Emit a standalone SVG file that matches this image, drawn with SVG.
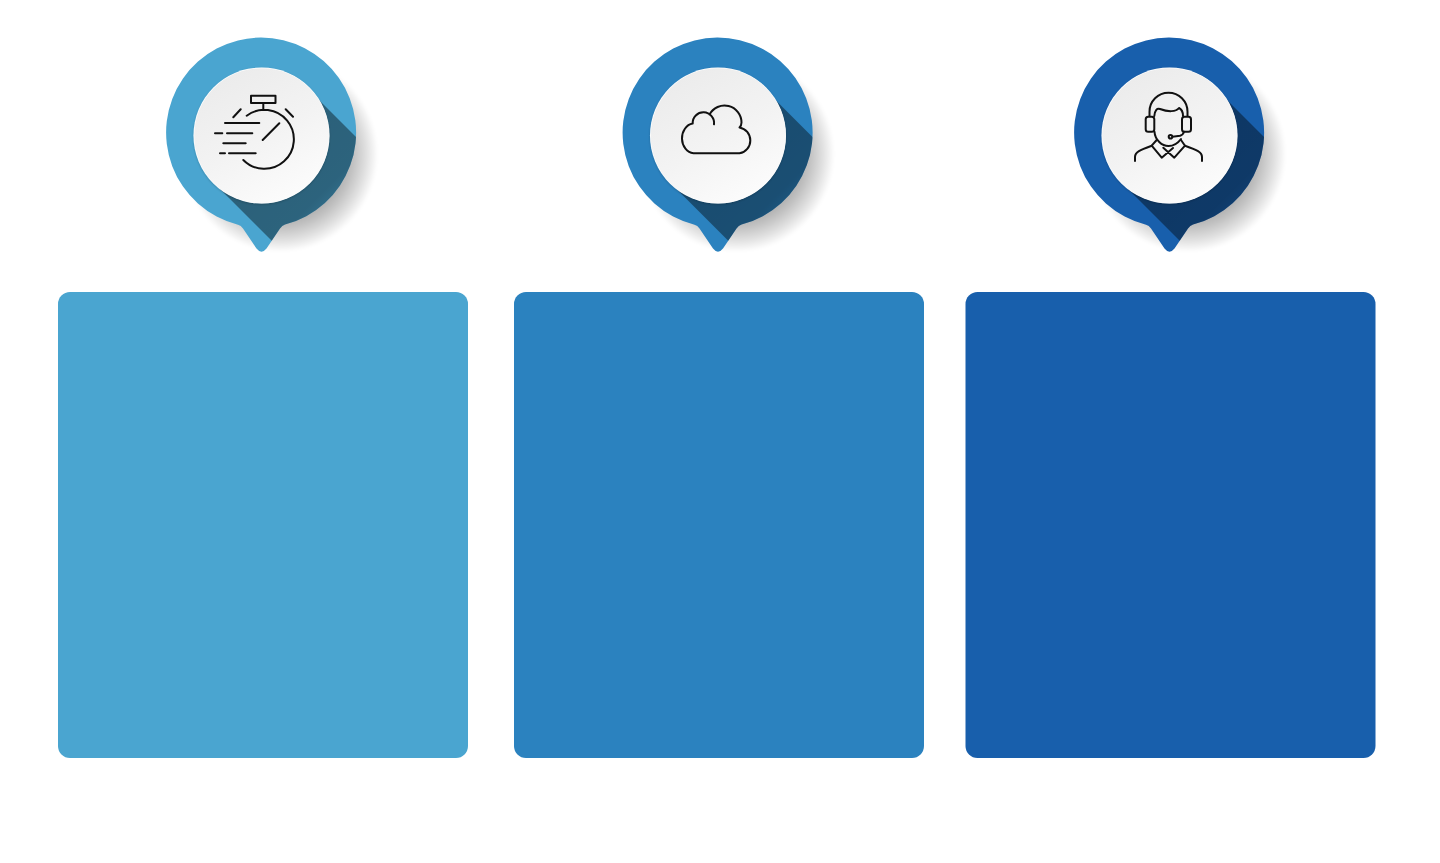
<svg xmlns="http://www.w3.org/2000/svg" width="1440" height="863" viewBox="0 0 1440 863">
<style>
.icon{fill:none;stroke:#111;stroke-width:2;stroke-linecap:round;stroke-linejoin:round}
.disc{fill:url(#discFill)}
.rim{fill:#fff;filter:url(#discShadow)}
.soft{fill:url(#softFill);filter:url(#softBlur)}
.band{fill:url(#bandFill)}
</style>
<defs>
<linearGradient id="discFill" x1="0.2" y1="0.1" x2="0.7" y2="1"><stop offset="0" stop-color="#ececec"/><stop offset="0.5" stop-color="#f3f3f3"/><stop offset="1" stop-color="#fcfcfc"/></linearGradient>
<radialGradient id="softFill" gradientUnits="userSpaceOnUse" cx="280" cy="154" r="98"><stop offset="0.6" stop-color="#000" stop-opacity="0.36"/><stop offset="0.75" stop-color="#000" stop-opacity="0.24"/><stop offset="0.88" stop-color="#000" stop-opacity="0.12"/><stop offset="1" stop-color="#000" stop-opacity="0"/></radialGradient>
<linearGradient id="bandFill" gradientUnits="userSpaceOnUse" x1="270" y1="140" x2="345" y2="215"><stop offset="0" stop-color="#000" stop-opacity="0.42"/><stop offset="0.7" stop-color="#000" stop-opacity="0.4"/><stop offset="1" stop-color="#000" stop-opacity="0.26"/></linearGradient>
<filter id="softBlur" x="-20%" y="-20%" width="140%" height="140%"><feGaussianBlur stdDeviation="1.5"/></filter>
<filter id="discShadow" x="-10%" y="-10%" width="120%" height="120%"><feDropShadow dx="0" dy="1" stdDeviation="1" flood-color="#000" flood-opacity="0.2"/></filter>
<path id="pinBody" d="M238 224.7A95 95 0 1 1 285 224.5Q282 225.5 280 228.5L266.5 248.6Q261.5 255 256.5 248.6L243 228.5Q241 225.5 238 224.7Z"/>
<clipPath id="pinClip"><use href="#pinBody"/></clipPath>
<g id="pinExtras">
<circle class="soft" cx="280" cy="154" r="98"/>
</g>
<g id="pinFront">
<g clip-path="url(#pinClip)"><path class="band" d="M300 81L440 221 340 309 212 181Z"/></g>
<circle class="rim" cx="261.5" cy="135.5" r="68"/>
<circle class="disc" cx="261.7" cy="135.7" r="67.5"/>
</g>
</defs>
<g id="node-1">
<use href="#pinExtras"/>
<use href="#pinBody" fill="#4aa5d0"/>
<use href="#pinFront"/>
<g class="icon">
<rect x="251" y="95.7" width="24.5" height="7.3"/>
<path d="M263.3 103V110M246.7 115.7A29.5 29.5 0 1 1 243.3 160M262.7 140L279.3 123.3M233.3 117.3L240.7 109.3M285.7 109.3L293 116.7M225 123H259.3M215 133.3H222.3M227 133.3H252.3M223.3 143.3H245.7M220 153.3H225M229 153.3H255.7"/>
</g>
<rect x="58" y="292" width="410" height="466" rx="12" fill="#4aa5d0"/>
</g>
<g id="node-2">
<g transform="translate(456.5 0)">
<use href="#pinExtras"/>
<use href="#pinBody" fill="#2b82bf"/>
<use href="#pinFront"/>
</g>
<path class="icon" d="M714 124.3A10.7 10.7 0 1 0 692.7 123.5A12.5 15 0 0 0 693.5 153.3H739.5A13.1 13.1 0 0 0 739.5 127.5Q741.5 125.5 741.5 122.5A17 17 0 0 0 709.5 114.5"/>
<rect x="514" y="292" width="410" height="466" rx="12" fill="#2b82bf"/>
</g>
<g id="node-3">
<g transform="translate(908 0)">
<use href="#pinExtras"/>
<use href="#pinBody" fill="#185fac"/>
<use href="#pinFront"/>
</g>
<g class="icon">
<path d="M1149.5 116V111.7A19 19 0 0 1 1187.5 111.7V116"/>
<rect x="1145.7" y="116.7" width="8.6" height="15" rx="2.5"/>
<rect x="1182" y="116.7" width="9" height="15" rx="2.5"/>
<path d="M1154.3 116C1155 110 1157 108 1160 109C1168 112 1176 112 1179 108C1181 109 1183 112 1183 116M1154.5 131.7C1155 140 1162 146 1168.5 146C1172 146 1177 144.5 1181 139"/>
<circle cx="1170.5" cy="136.7" r="1.8"/>
<path d="M1172.5 136.7L1180 135.8Q1183 135 1184 131.7"/>
<path d="M1156.7 140L1151.7 145.7L1161.7 157.7L1173 148M1181 140L1185 145.7L1174.3 157.7L1163.3 147.7"/>
<path d="M1135 161V157C1135 152 1140 150 1151.7 145.7M1202 161V157C1202 152 1197 150 1185 145.7"/>
</g>
<rect x="965.5" y="292" width="410" height="466" rx="12" fill="#185fac"/>
</g>
<g id="connectors"/>
</svg>
